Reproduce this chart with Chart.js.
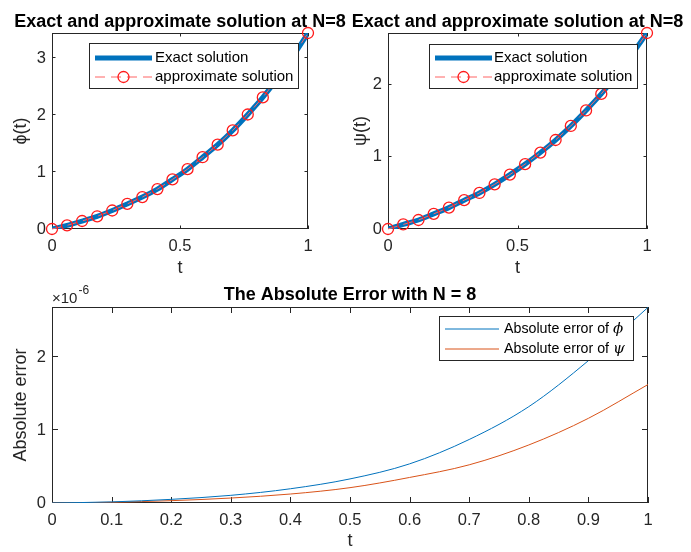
<!DOCTYPE html>
<html>
<head>
<meta charset="utf-8">
<title>Exact and approximate solution at N=8</title>
<script src="https://cdn.jsdelivr.net/npm/chart.js@4"></script>
<style>
  body { margin: 0; background: #fff; }
  #wrap { position: relative; width: 691px; height: 552px; }
  canvas { position: absolute; }
</style>
</head>
<body>
<div id="wrap">
  <canvas id="phiChart" width="360" height="280" style="left:0;top:0"></canvas>
  <canvas id="psiChart" width="351" height="280" style="left:340px;top:0"></canvas>
  <canvas id="errorChart" width="691" height="272" style="left:0;top:280px"></canvas>
</div>
<script>
// nodes of the approximate solution (18 points on [0, 1])
const tNodes = [0, 0.0588, 0.1176, 0.1765, 0.2353, 0.2941, 0.3529, 0.4118, 0.4706,
  0.5294, 0.5882, 0.6471, 0.7059, 0.7647, 0.8235, 0.8824, 0.9412, 1];

// exact and approximate differ by ~1e-6, so the same values serve both curves
const phiValues = [0, 0.064, 0.14, 0.223, 0.325, 0.44, 0.56, 0.70, 0.87,
  1.05, 1.26, 1.48, 1.73, 2.01, 2.31, 2.65, 3.03, 3.44];
const psiValues = [0, 0.063, 0.125, 0.21, 0.297, 0.40, 0.50, 0.62, 0.755,
  0.90, 1.06, 1.235, 1.43, 1.645, 1.875, 2.13, 2.42, 2.72];

// absolute errors
const tError = [0, 0.1, 0.2, 0.3, 0.4, 0.5, 0.6, 0.7, 0.8, 0.9, 1];
const errPhi = [0, 1.5e-8, 5.0e-8, 1.05e-7, 1.95e-7, 3.3e-7, 5.36e-7, 8.7e-7, 1.32e-6, 1.95e-6, 2.68e-6];
const errPsi = [0, 1.0e-8, 3.2e-8, 6.8e-8, 1.23e-7, 2.1e-7, 3.5e-7, 5.23e-7, 7.95e-7, 1.16e-6, 1.623e-6];

// tick values
const topXTicks = [0, 0.5, 1];
const phiYTicks = [0, 1, 2, 3];
const psiYTicks = [0, 1, 2];
const errXTicks = [0, 0.1, 0.2, 0.3, 0.4, 0.5, 0.6, 0.7, 0.8, 0.9, 1];
const errYTicks = [0, 1e-6, 2e-6];

const ink = '#262626';
const blue = '#0072BD';
const orange = '#D95319';
const family = '"Liberation Sans", Helvetica, Arial, sans-serif';
Chart.defaults.font.family = family;
Chart.defaults.color = ink;

function pts(xs, ys) {
  return xs.map((x, i) => ({ x: x, y: ys[i] }));
}

// matlab-like box with inward ticks, title, and a legend inside the axes
const matlabAxes = {
  id: 'matlabAxes',
  beforeDatasetsDraw(chart, args, o) {
    const { ctx, chartArea: a, scales: { x, y } } = chart;
    ctx.save();
    ctx.strokeStyle = ink;
    ctx.lineWidth = 1;
    ctx.strokeRect(a.left + 0.5, a.top + 0.5, a.right - a.left - 1, a.bottom - a.top - 1);
    ctx.beginPath();
    x.ticks.forEach(t => {
      const px = Math.round(x.getPixelForValue(t.value)) + 0.5;
      ctx.moveTo(px, a.top); ctx.lineTo(px, a.top + o.tickLen);
      ctx.moveTo(px, a.bottom); ctx.lineTo(px, a.bottom - o.tickLen);
    });
    y.ticks.forEach(t => {
      const py = Math.round(y.getPixelForValue(t.value)) - 0.5;
      ctx.moveTo(a.left, py); ctx.lineTo(a.left + o.tickLen, py);
      ctx.moveTo(a.right, py); ctx.lineTo(a.right - o.tickLen, py);
    });
    ctx.stroke();

    ctx.fillStyle = '#000';
    ctx.font = 'bold 18px ' + family;
    ctx.textAlign = 'center';
    ctx.textBaseline = 'alphabetic';
    ctx.fillText(o.title, (a.left + a.right) / 2, o.titleY);

    if (o.exponent) {
      ctx.fillStyle = ink;
      ctx.textAlign = 'left';
      ctx.font = '15px ' + family;
      ctx.fillText('\u00d710', o.exponent.x, o.exponent.y);
      const w = ctx.measureText('\u00d710').width;
      ctx.font = '12px ' + family;
      ctx.fillText('-6', o.exponent.x + w + 1, o.exponent.y - 9);
    }
    ctx.restore();
  },
  afterDatasetsDraw(chart, args, o) {
    const lg = o.legend;
    const ctx = chart.ctx;
    ctx.save();
    ctx.fillStyle = '#fff';
    ctx.fillRect(lg.x, lg.y, lg.w, lg.h);
    ctx.strokeStyle = ink;
    ctx.lineWidth = 1;
    ctx.strokeRect(lg.x + 0.5, lg.y + 0.5, lg.w, lg.h);
    chart.data.datasets.forEach((ds, i) => {
      const yy = lg.y + lg.rows[i];
      const x0 = lg.x + lg.line[0], x1 = lg.x + lg.line[1];
      ctx.strokeStyle = ds.borderColor;
      ctx.lineWidth = ds.borderWidth;
      ctx.setLineDash(ds.borderDash || []);
      ctx.beginPath(); ctx.moveTo(x0, yy); ctx.lineTo(x1, yy); ctx.stroke();
      ctx.setLineDash([]);
      if (ds.pointRadius) {
        ctx.strokeStyle = ds.pointBorderColor;
        ctx.lineWidth = ds.pointBorderWidth;
        ctx.beginPath(); ctx.arc((x0 + x1) / 2, yy, ds.pointRadius, 0, 2 * Math.PI); ctx.stroke();
      }
      ctx.fillStyle = '#000';
      ctx.textAlign = 'left';
      ctx.textBaseline = 'middle';
      ctx.font = lg.font + 'px ' + family;
      const m = ds.label.match(/^(.*?)([\u03d5\u03c8]?)$/);
      let w = ctx.measureText(m[1]).width;
      if (lg.prefixMax && w > lg.prefixMax) {
        ctx.fillText(m[1], lg.x + lg.textX, yy, lg.prefixMax);
        w = lg.prefixMax;
      } else {
        ctx.fillText(m[1], lg.x + lg.textX, yy);
      }
      if (m[2]) {
        ctx.font = 'italic ' + lg.font + 'px "DejaVu Serif", serif';
        ctx.fillText(m[2], lg.x + lg.textX + w, yy);
      }
    });
    ctx.restore();
  }
};

function makeChart(id, cfg) {
  return new Chart(document.getElementById(id), {
    type: 'line',
    data: { datasets: cfg.datasets },
    options: {
      responsive: false,
      animation: false,
      events: [],
      layout: { padding: { top: cfg.padTop, right: cfg.padRight, left: 0, bottom: 0 } },
      plugins: {
        legend: { display: false },
        tooltip: { enabled: false },
        matlabAxes: {
          title: cfg.title, titleY: cfg.titleY, tickLen: cfg.tickLen,
          legend: cfg.legend, exponent: cfg.exponent
        }
      },
      scales: {
        x: {
          type: 'linear', min: 0, max: 1,
          afterBuildTicks: s => { s.ticks = cfg.xTicks.map(v => ({ value: v })); },
          afterFit: s => { s.height = cfg.xHeight; },
          grid: { display: false, drawTicks: false },
          border: { display: false },
          ticks: {
            padding: 8, autoSkip: false, maxRotation: 0, color: ink,
            font: { size: 16.5 },
            callback: v => String(+(+v).toFixed(2))
          },
          title: { display: true, text: 't', color: ink, font: { size: 18 }, padding: { top: 0, bottom: cfg.xTitlePad } }
        },
        y: {
          type: 'linear', min: 0, max: cfg.yMax,
          afterBuildTicks: s => { s.ticks = cfg.yTicks.map(v => ({ value: v })); },
          afterFit: s => { s.width = cfg.yWidth; },
          grid: { display: false, drawTicks: false },
          border: { display: false },
          ticks: { padding: 6, color: ink, font: { size: 16.5 }, callback: cfg.yFormat },
          title: { display: true, text: cfg.yTitle, color: ink, font: { size: 18 }, padding: { top: 10, bottom: 0 } }
        }
      }
    },
    plugins: [matlabAxes]
  });
}

function solutionSets(values) {
  return [
    {
      label: 'Exact solution', data: pts(tNodes, values),
      borderColor: blue, borderWidth: 5, pointRadius: 0,
      cubicInterpolationMode: 'monotone', order: 2
    },
    {
      label: 'approximate solution', data: pts(tNodes, values),
      borderColor: '#ff6464', borderWidth: 1, borderDash: [10, 6],
      pointRadius: 5.5, pointBorderColor: '#ff1a1a', pointBorderWidth: 1.3,
      pointBackgroundColor: 'rgba(0,0,0,0)', backgroundColor: 'rgba(0,0,0,0)',
      fill: false, clip: false, order: 1
    }
  ];
}

const intLabel = v => String(Math.round(v));

makeChart('phiChart', {
  datasets: solutionSets(phiValues),
  title: 'Exact and approximate solution at N=8', titleY: 27,
  xTicks: topXTicks, yTicks: phiYTicks, yMax: 3.44, yTitle: '\u03d5(t)', yFormat: intLabel,
  padTop: 33, padRight: 52, yWidth: 52, xHeight: 51, xTitlePad: 1, tickLen: 3.5,
  legend: { x: 89, y: 43, w: 209, h: 45, rows: [15, 34], line: [6, 63], textX: 66, font: 15 }
});

makeChart('psiChart', {
  datasets: solutionSets(psiValues),
  title: 'Exact and approximate solution at N=8', titleY: 27,
  xTicks: topXTicks, yTicks: psiYTicks, yMax: 2.72, yTitle: '\u03c8(t)', yFormat: intLabel,
  padTop: 33, padRight: 44, yWidth: 48, xHeight: 51, xTitlePad: 1, tickLen: 3.5,
  legend: { x: 89, y: 44, w: 208, h: 44, rows: [14, 33], line: [6, 63], textX: 65, font: 15 }
});

makeChart('errorChart', {
  datasets: [
    { label: 'Absolute error of \u03d5', data: pts(tError, errPhi), borderColor: blue, borderWidth: 1,
      pointRadius: 0, cubicInterpolationMode: 'monotone' },
    { label: 'Absolute error of \u03c8', data: pts(tError, errPsi), borderColor: orange, borderWidth: 1,
      pointRadius: 0, cubicInterpolationMode: 'monotone' }
  ],
  title: 'The Absolute Error with N = 8', titleY: 20,
  xTicks: errXTicks, yTicks: errYTicks, yMax: 2.685e-6, yTitle: 'Absolute error',
  yFormat: v => String(Math.round(v * 1e6)),
  padTop: 27, padRight: 43, yWidth: 52, xHeight: 49, xTitlePad: 0, tickLen: 6,
  exponent: { x: 52, y: 23 },
  legend: { x: 439, y: 36, w: 194, h: 44, rows: [13, 33], line: [6, 60], textX: 65, font: 15, prefixMax: 109 }
});
</script>
</body>
</html>
